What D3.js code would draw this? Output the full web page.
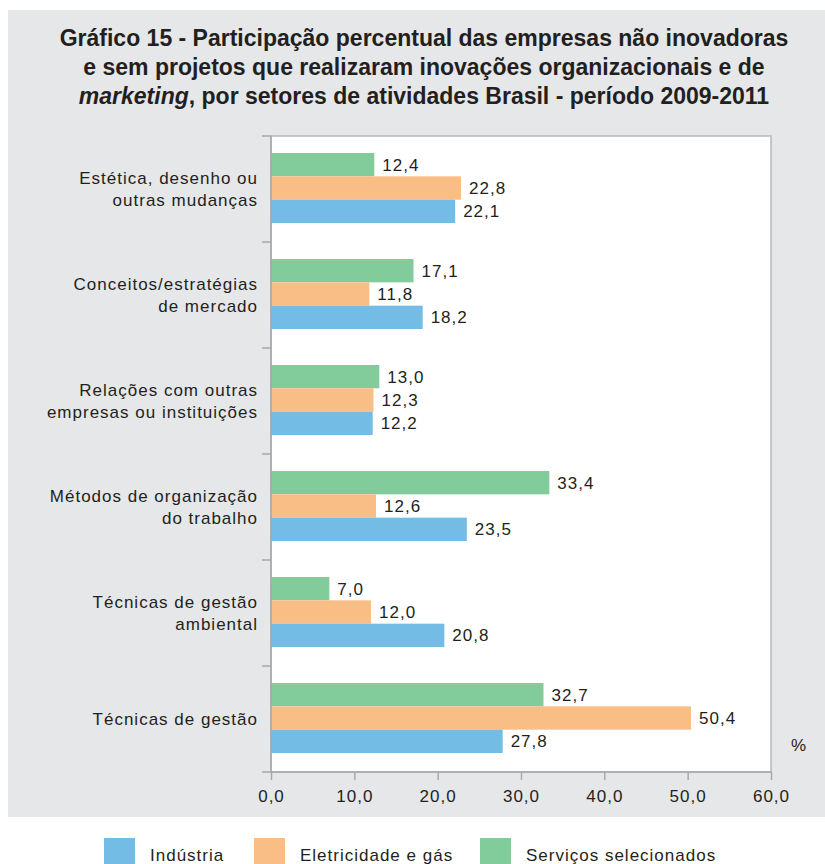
<!DOCTYPE html>
<html lang="pt">
<head>
<meta charset="utf-8">
<title>Gráfico 15</title>
<script src="https://cdn.jsdelivr.net/npm/d3@7"></script>
<style>
  body{
    margin:0;
    background:#fff;
    font-family:"Liberation Sans", Arial, sans-serif;
  }
  .cat, .val, .tick text, .leg{
    font-size:17px;
    letter-spacing:1px;
    fill:#231f20;
  }
  .title{
    font-family:"Liberation Sans Narrow", "Liberation Sans", Arial, sans-serif;
    font-weight:bold;
    font-size:23px;
    fill:#231f20;
  }
</style>
</head>
<body>
<div id="chart"></div>
<script>
  // categories, top to bottom
  var categories = [
    ["Estética, desenho ou", "outras mudanças"],
    ["Conceitos/estratégias", "de mercado"],
    ["Relações com outras", "empresas ou instituições"],
    ["Métodos de organização", "do trabalho"],
    ["Técnicas de gestão", "ambiental"],
    ["Técnicas de gestão"]
  ]
  var series = ["Serviços selecionados", "Eletricidade e gás", "Indústria"]
  var servicos = [12.4, 17.1, 13.0, 33.4, 7.0, 32.7]
  var eletricidade = [22.8, 11.8, 12.3, 12.6, 12.0, 50.4]
  var industria = [22.1, 18.2, 12.2, 23.5, 20.8, 27.8]
  var xTicks = [0, 10, 20, 30, 40, 50, 60]
  var colors = ["#82cb9b", "#f9bd86", "#72bce6"]
  var legendOrder = ["Indústria", "Eletricidade e gás", "Serviços selecionados"]

  var w = 825, h = 864
  var svg = d3.select("#chart").append("svg").attr("width", w).attr("height", h)

  // gray panel
  svg.append("rect").attr("x", 8).attr("y", 10).attr("width", w - 8).attr("height", 807)
    .attr("fill", "#e6e7e9")

  var titleLines = [
    [{t:"Gráfico 15 - Participação percentual das empresas não inovadoras"}],
    [{t:"e sem projetos que realizaram inovações organizacionais e de"}],
    [{t:"marketing", i:true}, {t:", por setores de atividades Brasil - período 2009-2011"}]
  ]
  titleLines.forEach(function(line, k){
    var txt = svg.append("text").attr("class", "title")
      .attr("x", 424).attr("y", 46 + k * 29).attr("text-anchor", "middle")
    line.forEach(function(p){
      txt.append("tspan").text(p.t).attr("font-style", p.i ? "italic" : null)
    })
  })

  var plotL = 271, plotR = 771, plotT = 136, plotB = 772
  var x = d3.scaleLinear().domain([0, 60]).range([plotL, plotR])
  var y = d3.scaleBand().domain(d3.range(categories.length)).range([plotT, plotB])
  var sub = d3.scaleBand().domain(series).range([17, 87])

  svg.append("rect").attr("x", plotL).attr("y", plotT).attr("width", plotR - plotL).attr("height", plotB - plotT)
    .attr("fill", "#fff").attr("stroke", "#b5b7ba").attr("stroke-width", 1.5)
  svg.append("line").attr("x1", plotL - 9).attr("x2", plotL).attr("y1", plotT).attr("y2", plotT)
    .attr("stroke", "#a7a9ac").attr("stroke-width", 1.5)

  var table = []
  categories.forEach(function(c, i){
    [servicos, eletricidade, industria].forEach(function(arr, j){
      table.push({cat:i, s:series[j], v:arr[i], color:colors[j]})
    })
  })

  svg.selectAll(".bar").data(table).enter().append("rect").attr("class", "bar")
    .attr("x", x(0))
    .attr("y", function(d){ return y(d.cat) + sub(d.s) })
    .attr("width", function(d){ return x(d.v) - x(0) })
    .attr("height", sub.bandwidth())
    .attr("fill", function(d){ return d.color })

  svg.selectAll(".val").data(table).enter().append("text").attr("class", "val")
    .attr("x", function(d){ return x(d.v) + 8 })
    .attr("y", function(d){ return y(d.cat) + sub(d.s) + sub.bandwidth() / 2 + 6 })
    .text(function(d){ return d.v.toFixed(1).replace(".", ",") })

  // category labels
  categories.forEach(function(c, i){
    var cy = y(i) + y.bandwidth() / 2
    var t = svg.append("text").attr("class", "cat").attr("text-anchor", "end")
    c.forEach(function(line, k){
      t.append("tspan").attr("x", 258)
        .attr("y", cy + 6 + (k - (c.length - 1) / 2) * 22)
        .text(line)
    })
  })

  // y axis
  svg.append("line").attr("x1", plotL).attr("x2", plotL).attr("y1", plotT).attr("y2", plotB)
    .attr("stroke", "#a7a9ac").attr("stroke-width", 1.5)
  svg.selectAll(".ytick").data(d3.range(1, categories.length)).enter().append("line")
    .attr("x1", plotL - 9).attr("x2", plotL)
    .attr("y1", function(d){ return y(d) }).attr("y2", function(d){ return y(d) })
    .attr("stroke", "#a7a9ac").attr("stroke-width", 1.5)

  // x axis
  var xAxis = d3.axisBottom(x).tickValues(xTicks).tickSize(8).tickSizeOuter(0)
    .tickFormat(function(d){ return d.toFixed(1).replace(".", ",") })
  var gx = svg.append("g").attr("transform", "translate(0," + plotB + ")").call(xAxis)
  gx.select(".domain").attr("stroke", "#a7a9ac").attr("stroke-width", 1.5)
    .attr("d", "M" + (plotL - 9) + ",0H" + plotR)
  gx.selectAll(".tick line").attr("stroke", "#a7a9ac").attr("stroke-width", 1.5)
  gx.selectAll(".tick text").attr("y", 18).attr("dy", "0.71em").attr("font-family", null)
    .attr("font-size", null)

  svg.append("text").attr("class", "val").attr("x", 791).attr("y", 751).text("%")

  // legend
  var legX = [104, 254, 480]
  legendOrder.forEach(function(name, i){
    svg.append("rect").attr("x", legX[i]).attr("y", 838).attr("width", 31).attr("height", 30)
      .attr("fill", colors[2 - i])
    svg.append("text").attr("class", "leg").attr("x", legX[i] + 46).attr("y", 861).text(name)
  })
</script>
</body>
</html>
